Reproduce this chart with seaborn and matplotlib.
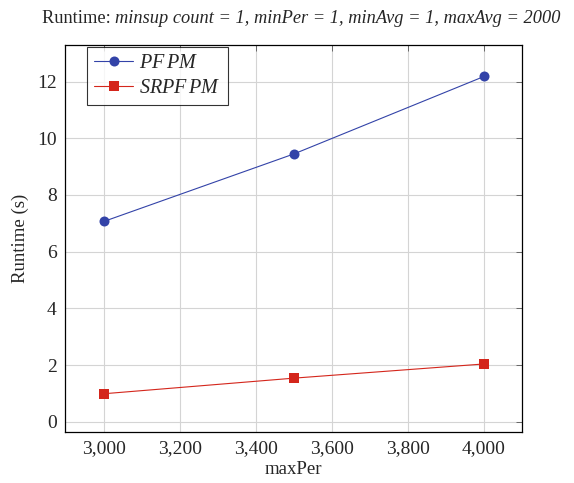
import matplotlib
matplotlib.use("Agg")
import matplotlib.pyplot as plt
import seaborn as sns
import pandas as pd
from matplotlib.ticker import FuncFormatter, MultipleLocator
from matplotlib.lines import Line2D

maxper = [3000, 3500, 4000]
pfpm = [7.07, 9.45, 12.18]
srpfpm = [0.99, 1.54, 2.04]
series_names = ["PFPM", "SRPFPM"]
title_plain = "Runtime: "
title_italic = "minsup count = 1, minPer = 1, minAvg = 1, maxAvg = 2000"

df = pd.DataFrame({
    "maxPer": maxper * 2,
    "Runtime": pfpm + srpfpm,
    "Algorithm": [series_names[0]] * 3 + [series_names[1]] * 3,
})

sns.set_style("white")
plt.rcParams["font.family"] = ["Liberation Serif", "DejaVu Serif"]
plt.rcParams["mathtext.fontset"] = "custom"
plt.rcParams["mathtext.it"] = "Liberation Serif:italic"
plt.rcParams["mathtext.rm"] = "Liberation Serif"

fig = plt.figure(figsize=(5.74, 4.83), dpi=100)
ax = fig.add_axes([65 / 574, 1 - 432 / 483, (522 - 65) / 574, (432 - 45) / 483])

blue = "#3343a8"
red = "#d4261c"
sns.lineplot(data=df, x="maxPer", y="Runtime", hue="Algorithm", style="Algorithm",
             palette={series_names[0]: blue, series_names[1]: red},
             markers={series_names[0]: "o", series_names[1]: "s"},
             dashes=False, linewidth=0.8, markersize=7.2, markeredgewidth=0,
             ax=ax, legend=False)

ax.set_xlim(2897, 4100)
ax.set_ylim(-0.36, 13.29)
ax.xaxis.set_major_locator(MultipleLocator(200))
ax.yaxis.set_major_locator(MultipleLocator(2))
ax.xaxis.set_major_formatter(FuncFormatter(lambda v, p: f"{int(round(v)):,}"))
ax.grid(True, color="#d4d4d4", linewidth=0.8)
ax.set_axisbelow(True)
for s in ax.spines.values():
    s.set_color("black")
    s.set_linewidth(0.9)
ax.tick_params(direction="in", length=4, width=0.6, color="#555555",
               labelsize=14, top=True, right=True, pad=6)
ax.set_xlabel("maxPer", fontsize=13.5, labelpad=3)
ax.set_ylabel("Runtime (s)", fontsize=13.5, labelpad=6)

handles = [Line2D([], [], color=blue, lw=0.8, marker="o", markersize=7.2, markeredgewidth=0),
           Line2D([], [], color=red, lw=0.8, marker="s", markersize=7.5, markeredgewidth=0)]
leg = ax.legend(handles, [r"$PF\,PM$", r"$SRPF\,PM$"], loc="upper left",
                bbox_to_anchor=(0.048, 0.995), fontsize=14.5, frameon=True, fancybox=False,
                borderaxespad=0.0, handlelength=1.95, handletextpad=0.3, borderpad=0.35,
                labelspacing=0.28)
leg.get_frame().set_edgecolor("black")
leg.get_frame().set_linewidth(0.8)

t1 = fig.text(42 / 574, 1 - 23 / 483, title_plain, fontsize=13.2, ha="left", va="baseline")
ax.annotate(title_italic, xy=(1, 0), xycoords=t1, ha="left", va="bottom",
            fontsize=13.2, fontstyle="italic")

fig.savefig("out.png", dpi=100)
